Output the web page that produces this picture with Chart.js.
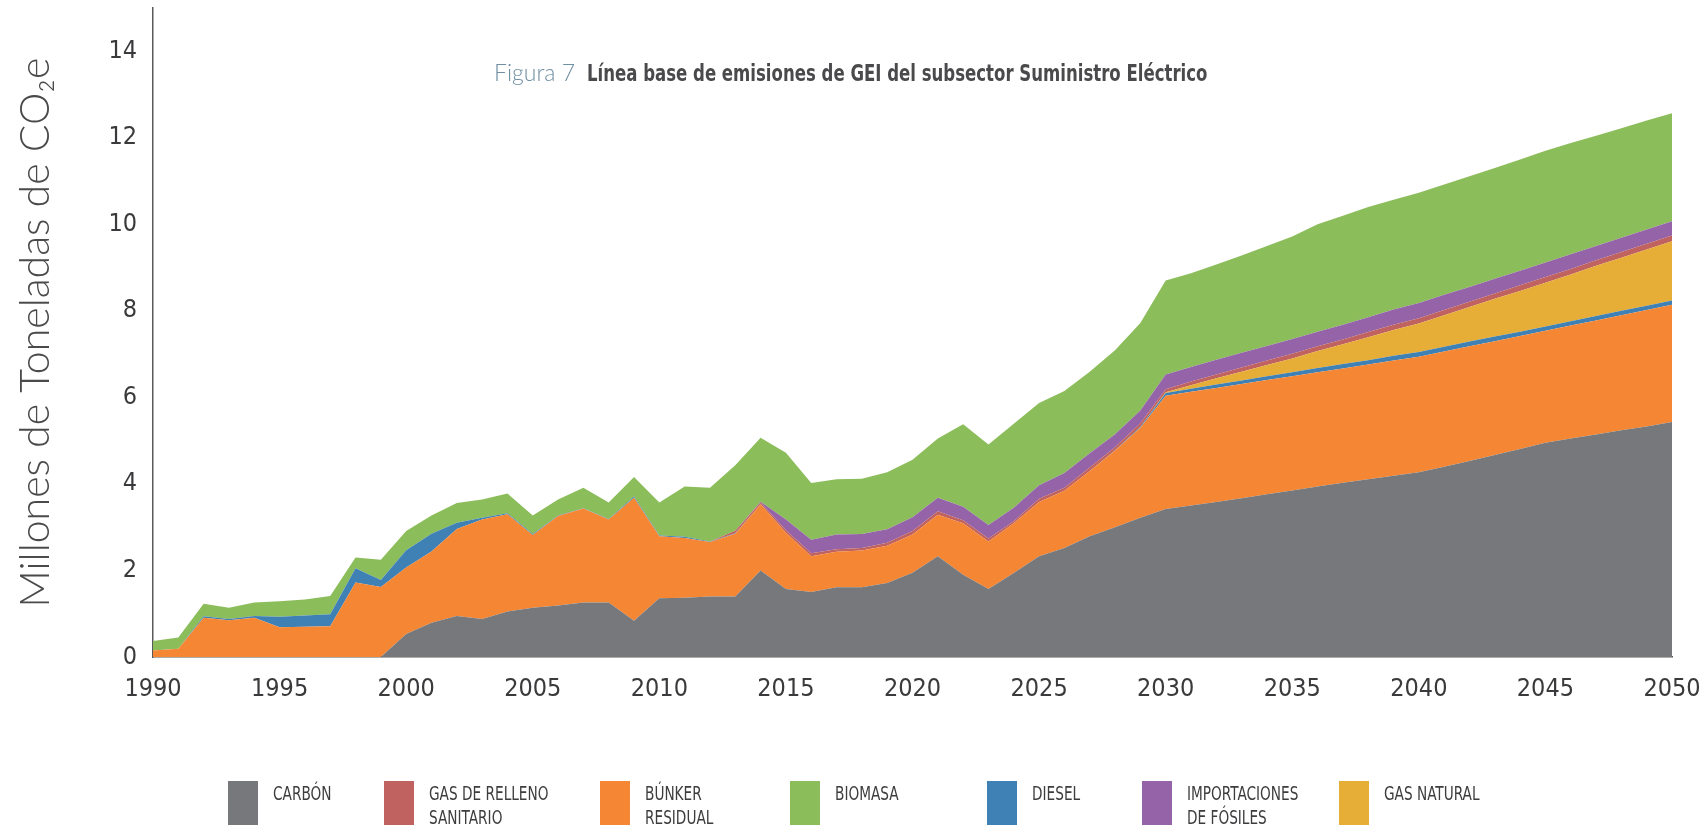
<!DOCTYPE html>
<html>
<head>
<meta charset="utf-8">
<script src="https://cdn.jsdelivr.net/npm/chart.js@4"></script>
<style>
  body { margin: 0; background: #fff; }
  #wrap { position: relative; width: 1701px; height: 825px; overflow: hidden; }
  #title { position: absolute; left: 494px; top: 58px; white-space: nowrap; font-size: 23px; }
  #title .fig { font-family: 'Lato', 'Open Sans', sans-serif; font-weight: 300; color: #6f8fa3; margin-right: 12px; }
  #title .txt { display: inline-block; transform: scaleX(0.8); transform-origin: left center; font-family: 'Liberation Sans Narrow', 'DejaVu Sans Condensed', sans-serif; font-weight: bold; color: #4a4a4c; }
  .lg { position: absolute; top: 781px; }
  .lg .sw { position: absolute; left: 0; top: 0; width: 30px; height: 46px; }
  .lg .lb { position: absolute; left: 45px; top: 0px; transform: scaleX(0.76); transform-origin: left top; font-family: 'Liberation Sans Narrow', 'DejaVu Sans Condensed', sans-serif; font-size: 20px; line-height: 24px; color: #3d3d3f; white-space: nowrap; }
</style>
</head>
<body>
<div id="wrap">
  <canvas id="chart"></canvas>
  <div id="title"><span class="fig">Figura 7</span><span class="txt">Línea base de emisiones de GEI del subsector Suministro Eléctrico</span></div>
</div>
<script>
var years = [];
for (var y = 1990; y <= 2050; y++) years.push(y);

var yTicks = [0, 2, 4, 6, 8, 10, 12, 14];

var carbon = [0, 0, 0, 0, 0, 0, 0, 0, 0, 0,
  0.53, 0.79, 0.95, 0.88, 1.05, 1.14, 1.19, 1.26, 1.26, 0.84,
  1.36, 1.37, 1.40, 1.40, 2.00, 1.57, 1.50, 1.61, 1.61, 1.71,
  1.95, 2.33, 1.90, 1.57, 1.94, 2.33, 2.52, 2.79, 3.00, 3.22,
  3.42, 3.50, 3.58, 3.67, 3.76, 3.85, 3.94, 4.03, 4.11, 4.19,
  4.27, 4.40, 4.53, 4.67, 4.81, 4.95, 5.05, 5.14, 5.24, 5.33,
  5.43];
var bunker = [0.15, 0.19, 0.91, 0.85, 0.91, 0.69, 0.70, 0.71, 1.72, 1.62,
  1.54, 1.65, 2.01, 2.30, 2.25, 1.68, 2.07, 2.17, 1.92, 2.84,
  1.43, 1.38, 1.26, 1.45, 1.53, 1.30, 0.83, 0.82, 0.85, 0.86,
  0.88, 0.96, 1.19, 1.10, 1.15, 1.25, 1.32, 1.51, 1.77, 2.08,
  2.62, 2.63, 2.64, 2.64, 2.64, 2.64, 2.64, 2.64, 2.65, 2.66,
  2.67, 2.66, 2.65, 2.63, 2.61, 2.59, 2.61, 2.64, 2.66, 2.69,
  2.71];
var diesel = [0, 0, 0.03, 0.03, 0.04, 0.24, 0.26, 0.28, 0.33, 0.16,
  0.40, 0.41, 0.14, 0.04, 0.02, 0.02, 0.01, 0.01, 0.01, 0.03,
  0.02, 0.03, 0.01, 0.01, 0, 0, 0, 0, 0, 0,
  0, 0, 0, 0, 0, 0, 0, 0, 0.01, 0.02,
  0.06, 0.07, 0.08, 0.08, 0.09, 0.09, 0.10, 0.10, 0.10, 0.11,
  0.11, 0.11, 0.11, 0.11, 0.10, 0.10, 0.10, 0.10, 0.10, 0.10,
  0.10];
var gasNatural = [0, 0, 0, 0, 0, 0, 0, 0, 0, 0,
  0, 0, 0, 0, 0, 0, 0, 0, 0, 0,
  0, 0, 0, 0, 0, 0, 0, 0, 0, 0,
  0, 0, 0, 0, 0, 0, 0, 0, 0, 0,
  0.02, 0.08, 0.14, 0.20, 0.26, 0.32, 0.39, 0.46, 0.53, 0.60,
  0.66, 0.73, 0.80, 0.87, 0.94, 1.01, 1.08, 1.16, 1.23, 1.30,
  1.37];
var relleno = [0, 0, 0, 0, 0, 0, 0, 0, 0, 0,
  0, 0, 0, 0, 0, 0, 0, 0, 0, 0,
  0, 0, 0, 0.06, 0.04, 0.06, 0.07, 0.06, 0.06, 0.07,
  0.08, 0.08, 0.07, 0.07, 0.05, 0.08, 0.07, 0.08, 0.07, 0.08,
  0.07, 0.09, 0.09, 0.10, 0.10, 0.11, 0.11, 0.11, 0.12, 0.12,
  0.12, 0.12, 0.12, 0.12, 0.13, 0.13, 0.13, 0.13, 0.13, 0.13,
  0.13];
var importaciones = [0, 0, 0, 0, 0, 0, 0, 0, 0, 0,
  0, 0, 0, 0, 0, 0, 0, 0, 0, 0,
  0, 0, 0, 0, 0.02, 0.25, 0.31, 0.34, 0.32, 0.31,
  0.32, 0.31, 0.31, 0.31, 0.31, 0.31, 0.34, 0.33, 0.30, 0.30,
  0.34, 0.33, 0.34, 0.34, 0.34, 0.34, 0.34, 0.34, 0.34, 0.35,
  0.35, 0.35, 0.34, 0.34, 0.34, 0.34, 0.34, 0.33, 0.33, 0.33,
  0.33];
var biomasa = [0.22, 0.26, 0.29, 0.26, 0.31, 0.36, 0.37, 0.42, 0.25, 0.47,
  0.44, 0.42, 0.46, 0.42, 0.46, 0.43, 0.37, 0.47, 0.38, 0.45,
  0.76, 1.16, 1.24, 1.51, 1.48, 1.54, 1.31, 1.28, 1.28, 1.32,
  1.33, 1.37, 1.91, 1.86, 1.94, 1.90, 1.90, 1.88, 1.94, 2.02,
  2.17, 2.17, 2.20, 2.25, 2.31, 2.37, 2.48, 2.52, 2.55, 2.54,
  2.55, 2.55, 2.56, 2.56, 2.57, 2.58, 2.57, 2.55, 2.53, 2.52,
  2.50];

// stacking order, bottom to top
var series = [
  { label: 'CARBÓN', data: carbon, color: '#77787b' },
  { label: 'BÚNKER RESIDUAL', data: bunker, color: '#f58634' },
  { label: 'DIESEL', data: diesel, color: '#3f81b4' },
  { label: 'GAS NATURAL', data: gasNatural, color: '#e6ad37' },
  { label: 'GAS DE RELLENO SANITARIO', data: relleno, color: '#c0625f' },
  { label: 'IMPORTACIONES DE FÓSILES', data: importaciones, color: '#9463a8' },
  { label: 'BIOMASA', data: biomasa, color: '#8cbd5b' }
];

// legend as printed in the figure
var legendItems = [
  { text: 'CARBÓN', color: '#77787b' },
  { text: 'GAS DE RELLENO<br>SANITARIO', color: '#c0625f' },
  { text: 'BÚNKER<br>RESIDUAL', color: '#f58634' },
  { text: 'BIOMASA', color: '#8cbd5b' },
  { text: 'DIESEL', color: '#3f81b4' },
  { text: 'IMPORTACIONES<br>DE FÓSILES', color: '#9463a8' },
  { text: 'GAS NATURAL', color: '#e6ad37' }
];
var legendLeft = [228, 384, 600, 790, 987, 1142, 1339];

var wrap = document.getElementById('wrap');
legendItems.forEach(function (it, i) {
  var d = document.createElement('div');
  d.className = 'lg';
  d.style.left = legendLeft[i] + 'px';
  d.innerHTML = '<div class="sw" style="background:' + it.color + '"></div><div class="lb">' + it.text + '</div>';
  wrap.appendChild(d);
});

var tickFont = { family: "'Liberation Sans Narrow', 'DejaVu Sans Condensed', sans-serif", size: 25 };

var chart = new Chart(document.getElementById('chart'), {
  type: 'line',
  data: {
    datasets: series.map(function (s, i) {
      return {
        label: s.label,
        data: years.map(function (yr, k) { return { x: yr, y: s.data[k] }; }),
        backgroundColor: s.color,
        borderColor: s.color,
        borderWidth: 0,
        pointRadius: 0,
        tension: 0,
        fill: i === 0 ? 'origin' : '-1'
      };
    })
  },
  options: {
    responsive: true,
    maintainAspectRatio: false,
    animation: false,
    layout: { padding: { left: 0, right: 0, top: 8, bottom: 108 } },
    plugins: { legend: { display: false }, tooltip: { enabled: false } },
    scales: {
      x: {
        type: 'linear',
        min: 1990,
        max: 2050,
        grid: { display: false, drawTicks: false },
        border: { display: true, color: '#5a5a5c', width: 1.5 },
        ticks: { stepSize: 5, padding: 17, color: '#3a3a3c', font: tickFont, maxRotation: 0,
          callback: function (v) { return String(v); } },
        afterFit: function (scale) {
          scale.height = 60;
          scale.paddingLeft = 0;
          scale.paddingRight = 29;
        }
      },
      y: {
        stacked: true,
        min: 0,
        max: 15,
        grid: { display: false, drawTicks: false },
        border: { display: true, color: '#5a5a5c', width: 1.5 },
        ticks: { padding: 16, color: '#3a3a3c', font: tickFont },
        afterBuildTicks: function (scale) {
          scale.ticks = yTicks.map(function (v) { return { value: v }; });
        },
        afterFit: function (scale) {
          scale.width = 153;
          scale.paddingTop = 0;
          scale.paddingBottom = 0;
        },
        title: {
          display: true,
          text: 'Millones de Toneladas de CO₂e',
          color: '#4a4a4c',
          padding: { top: 11, bottom: 0 },
          font: { family: "'Lato', 'Open Sans', sans-serif", size: 41, weight: '300' }
        }
      }
    }
  }
});
</script>
</body>
</html>
